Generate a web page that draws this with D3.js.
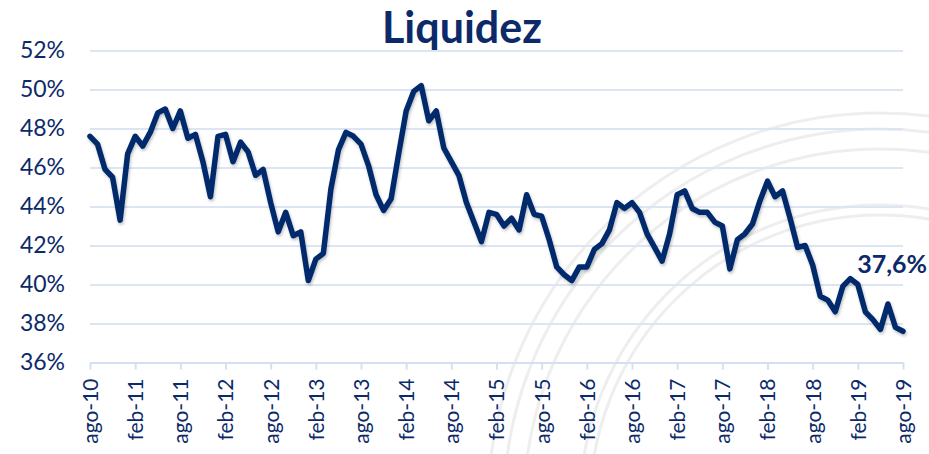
<!DOCTYPE html>
<html lang="es">
  <head>
    <meta charset="utf-8">
    <title>Liquidez</title>
    <script src="https://d3js.org/d3.v7.min.js"></script>
    <style>
      body { margin: 0; background: #fff; }
      text { font-family: Lato, "Open Sans", sans-serif; fill: #0c2a69; }
    </style>
  </head>
  <body>
    <script>
      var width = 929;
      var height = 454;
      var margin = {top: 50.5, left: 90, right: 26, bottom: 91.5};

      // liquidez mensual, ago-10 .. ago-19 (%)
      var liquidez = [
        47.6, 47.2, 45.9, 45.5, 43.3, 46.7, 47.6, 47.1, 47.8, 48.8, 49.0, 48.0,
        48.9, 47.5, 47.7, 46.3, 44.5, 47.6, 47.7, 46.3, 47.3, 46.8, 45.6, 45.9,
        44.2, 42.7, 43.7, 42.5, 42.7, 40.2, 41.3, 41.6, 44.9, 46.9, 47.8, 47.6,
        47.2, 46.1, 44.6, 43.8, 44.4, 46.7, 48.9, 49.9, 50.2, 48.4, 48.9, 47.0,
        46.3, 45.6, 44.2, 43.2, 42.2, 43.7, 43.6, 43.0, 43.4, 42.8, 44.6, 43.6,
        43.5, 42.3, 40.9, 40.5, 40.2, 40.9, 40.9, 41.8, 42.1, 42.8, 44.2, 43.9,
        44.2, 43.7, 42.6, 41.9, 41.2, 42.6, 44.6, 44.8, 43.9, 43.7, 43.7, 43.2,
        43.0, 40.8, 42.3, 42.6, 43.1, 44.3, 45.3, 44.5, 44.8, 43.4, 41.9, 42.0,
        41.0, 39.4, 39.2, 38.6, 39.9, 40.3, 40.0, 38.6, 38.2, 37.7, 39.0, 37.8,
        37.6
      ];

      var tickLabels = ["ago-10","feb-11","ago-11","feb-12","ago-12","feb-13","ago-13",
        "feb-14","ago-14","feb-15","ago-15","feb-16","ago-16","feb-17","ago-17",
        "feb-18","ago-18","feb-19","ago-19"];

      var yTicks = [36, 38, 40, 42, 44, 46, 48, 50, 52];

      var svg = d3.select("body")
        .append("svg")
        .attr("width", width)
        .attr("height", height);

      var x = d3.scaleLinear()
        .domain([0, liquidez.length - 1])
        .range([margin.left, width - margin.right]);

      var y = d3.scaleLinear()
        .domain([36, 52])
        .range([height - margin.bottom, margin.top]);

      // sello de fondo (solo los anillos)
      var seal = svg.append("g");
      [392, 376, 356, 300, 290].forEach(function(r) {
        seal.append("circle")
          .attr("cx", 880).attr("cy", 505).attr("r", r)
          .attr("fill", "none")
          .attr("stroke", "#eeeeee")
          .attr("stroke-width", 3);
      });

      // rejilla
      var grid = svg.append("g")
        .attr("transform", `translate(${margin.left},0)`)
        .call(d3.axisLeft(y).tickValues(yTicks.slice(1)).tickSize(-(width - margin.left - margin.right)).tickFormat(""));
      grid.select(".domain").remove();
      grid.selectAll("line").attr("stroke", "#dbe5f4").attr("stroke-width", 2);

      // eje y
      var yAxis = svg.append("g")
        .attr("transform", `translate(${margin.left - 25},0)`)
        .call(d3.axisLeft(y).tickValues(yTicks).tickSize(0).tickFormat(function(d) { return d + "%"; }));
      yAxis.select(".domain").remove();
      yAxis.selectAll("text")
        .attr("x", 0)
        .style("font-size", "23px")
        .style("fill", "#0c2a69");

      // eje x
      var xAxis = svg.append("g")
        .attr("transform", `translate(0,${height - margin.bottom})`)
        .call(d3.axisBottom(x)
          .tickValues(tickLabels.map(function(d, i) { return i * 6; }))
          .tickSize(7)
          .tickSizeOuter(0)
          .tickFormat(function(d, i) { return tickLabels[i]; }));
      xAxis.select(".domain").attr("stroke", "#d4e0f2").attr("stroke-width", 2);
      xAxis.selectAll(".tick line").attr("stroke", "#d4e0f2").attr("stroke-width", 2);
      xAxis.selectAll("text")
        .attr("transform", "rotate(-90)")
        .attr("x", -16)
        .attr("y", 0)
        .attr("dy", "0.35em")
        .attr("text-anchor", "end")
        .style("font-size", "21px")
        .style("fill", "#0c2a69");

      // título
      svg.append("text")
        .attr("x", 462)
        .attr("y", 43)
        .attr("text-anchor", "middle")
        .style("font-size", "43px")
        .style("font-weight", "bold")
        .text("Liquidez");

      // serie
      var defs = svg.append("defs");
      defs.append("filter")
        .attr("id", "shadow")
        .attr("x", "-5%").attr("y", "-5%").attr("width", "110%").attr("height", "120%")
        .append("feDropShadow")
        .attr("dx", 1).attr("dy", 2).attr("stdDeviation", 1.5)
        .attr("flood-color", "#000").attr("flood-opacity", 0.25);

      var line = d3.line()
        .x(function(d, i) { return x(i); })
        .y(function(d) { return y(d); });

      svg.append("path")
        .datum(liquidez)
        .attr("d", line)
        .attr("fill", "none")
        .attr("stroke", "#002a6c")
        .attr("stroke-width", 5.5)
        .attr("stroke-linejoin", "round")
        .attr("stroke-linecap", "round")
        .attr("filter", "url(#shadow)");

      // etiqueta último valor
      var last = liquidez.length - 1;
      svg.append("text")
        .attr("x", x(last) + 24)
        .attr("y", y(liquidez[last]) - 58)
        .attr("text-anchor", "end")
        .style("font-size", "25px")
        .style("font-weight", "bold")
        .text(String(liquidez[last]).replace(".", ",") + "%");
    </script>
  </body>
</html>
